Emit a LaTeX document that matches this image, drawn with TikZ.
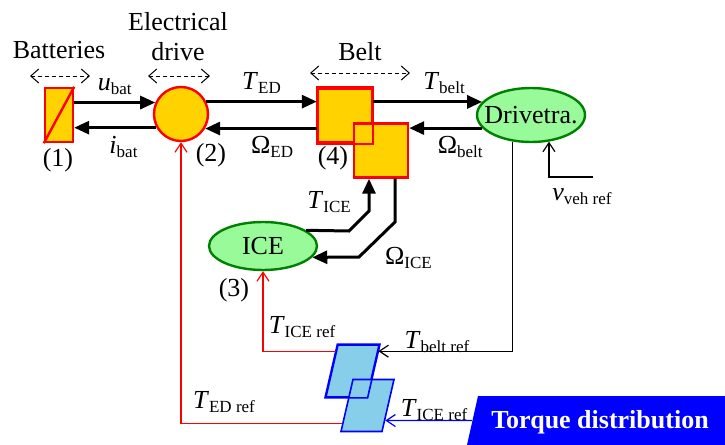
\documentclass[tikz,border=0pt]{standalone}
\usepackage{fontspec}
\setmainfont{Liberation Serif}
\usetikzlibrary{shapes.geometric,arrows.meta,calc}
\definecolor{gold}{RGB}{255,210,0}
\definecolor{lgreen}{RGB}{153,250,153}
\definecolor{dgreen}{RGB}{0,128,0}
\definecolor{sky}{RGB}{135,206,235}
\tikzstyle{block} = [draw=red,fill=gold,line width=1.2pt,inner sep=0pt]
\tikzstyle{elli} = [ellipse,draw=dgreen,fill=lgreen,line width=1.2pt,inner sep=0pt]
\tikzstyle{para} = [draw=blue,fill=sky,line width=0.8pt,minimum width=20.5pt,minimum height=26pt,inner sep=0pt,xslant=0.2308]
\tikzstyle{flow} = [line width=1.5pt,-{Triangle[length=7.5pt,width=6.5pt]}]
\tikzstyle{ref} = [line width=0.6pt,-{Straight Barb[length=4.5pt,width=6pt]}]
\tikzstyle{span} = [line width=0.5pt,dash pattern=on 2pt off 1.5pt,{Straight Barb[length=4pt,width=7pt]}-{Straight Barb[length=4pt,width=7pt]}]
\newcommand{\sig}[2]{#1\raisebox{-2pt}{\fontsize{8.5}{9}\selectfont #2}}

\begin{document}
\begin{tikzpicture}[x=0.5pt,y=-0.5pt,font=\fontsize{13}{15}\selectfont]
    \useasboundingbox (0,0) rectangle (725,445);

    % titles
    \node (batt) at (59,50) {Batteries};
    \node[align=center] (edt) at (178,37) {Electrical\\drive};
    \node (beltt) at (360,52) {Belt};
    \draw[span] (30,76) -- (90,76);
    \draw[span] (148,76) -- (210,76);
    \draw[span] (310,73) -- (410,73);

    % blocks
    \node[block,minimum width=14pt,minimum height=27pt] (bat) at (59,115) {};
    \draw[red,line width=1.2pt] (bat.south west) -- (bat.north east);
    \node[block,circle,minimum size=27pt] (ed) at (181,114) {};
    \node[block,minimum size=27pt] (belt1) at (345,115.5) {};
    \node[block,minimum size=27pt] (belt2) at (381,150.5) {};
    \draw[red,line width=1.2pt] (belt1.south west) rectangle (belt1.north east);
    \node[elli,minimum width=54pt,minimum height=27pt] (dt) at (531,115) {\makebox[0pt]{Drivetra.}};
    \node[elli,minimum width=54pt,minimum height=24pt] (ice) at (263,246) {\makebox[0pt]{ICE}};
    \node (n1) at (58,160) {(1)};
    \node (n2) at (211,155) {(2)};
    \node (n3) at (234,290) {(3)};
    \node (n4) at (333,158) {(4)};

    % power flows
    \draw[flow] (bat.east |- ed.156) -- (ed.156) node[midway,above] {\sig{\textit{u}}{bat}};
    \draw[flow] (ed.209) -- (ed.209 -| bat.east) node[pos=0.4,below] {\sig{\textit{i}}{bat}};
    \draw[flow] (ed.26) -- (ed.26 -| belt1.west) node[midway,above] {\sig{\textit{T}}{ED}};
    \draw[flow] (belt1.west |- ed.-31) -- (ed.-31) node[pos=0.4,below] {\sig{Ω}{ED}};
    \draw[flow] (belt1.east |- dt.165) -- (dt.165) node[pos=0.65,above] {\sig{\textit{T}}{belt}};
    \draw[flow] (dt.195) -- (dt.195 -| belt2.east) node[pos=0.3,below] {\sig{Ω}{belt}};
    \draw[flow] (ice.20) -- (349,231) -- (369,211) node[midway,above left] {\sig{\textit{T}}{ICE}} -- ([xshift=-6pt]belt2.south);
    \draw[flow] ([xshift=7pt]belt2.south) -- (395,222) -- (359,257) node[midway,below right] {\sig{Ω}{ICE}} -- (ice.-13);

    % torque distribution
    \node[para] (p1) at (352.5,371) {};
    \node[para] (p2) at (367.5,405.5) {};
    \draw[blue,line width=0.8pt] (p1.north west) -- (p1.north east) -- (p1.south east) -- (p1.south west) -- cycle;
    \fill[blue] (478,396) -- (725,396) -- (725,445) -- (467,445) -- cycle;
    \node[text=white,font=\bfseries\fontsize{13}{15}\selectfont] (td) at (600,422) {Torque distribution};
    \coordinate (tdin) at (472,420.5);

    \coordinate (vin) at (593,177);
    \draw[ref] (vin) -| (dt.-56);
    \node (vref) at (582,197) {\sig{\textit{v}}{veh ref}};
    \draw[ref] (dt.235) |- ($(p1.north east)!0.13!(p1.south east)$);
    \node (tbref) at (437,342) {\sig{\textit{T}}{belt ref}};
    \draw[ref,red] ($(p1.north west)!0.13!(p1.south west)$) -| (ice.south);
    \node (tiref) at (302,327) {\sig{\textit{T}}{ICE ref}};
    \draw[ref,red] ($(p2.north west)!0.83!(p2.south west)$) -| (ed.south);
    \node (teref) at (224,402) {\sig{\textit{T}}{ED ref}};
    \draw[ref,blue] (tdin) -- ($(p2.north east)!0.78!(p2.south east)$);
    \node (tiref2) at (434,410) {\sig{\textit{T}}{ICE ref}};
\end{tikzpicture}
\end{document}
